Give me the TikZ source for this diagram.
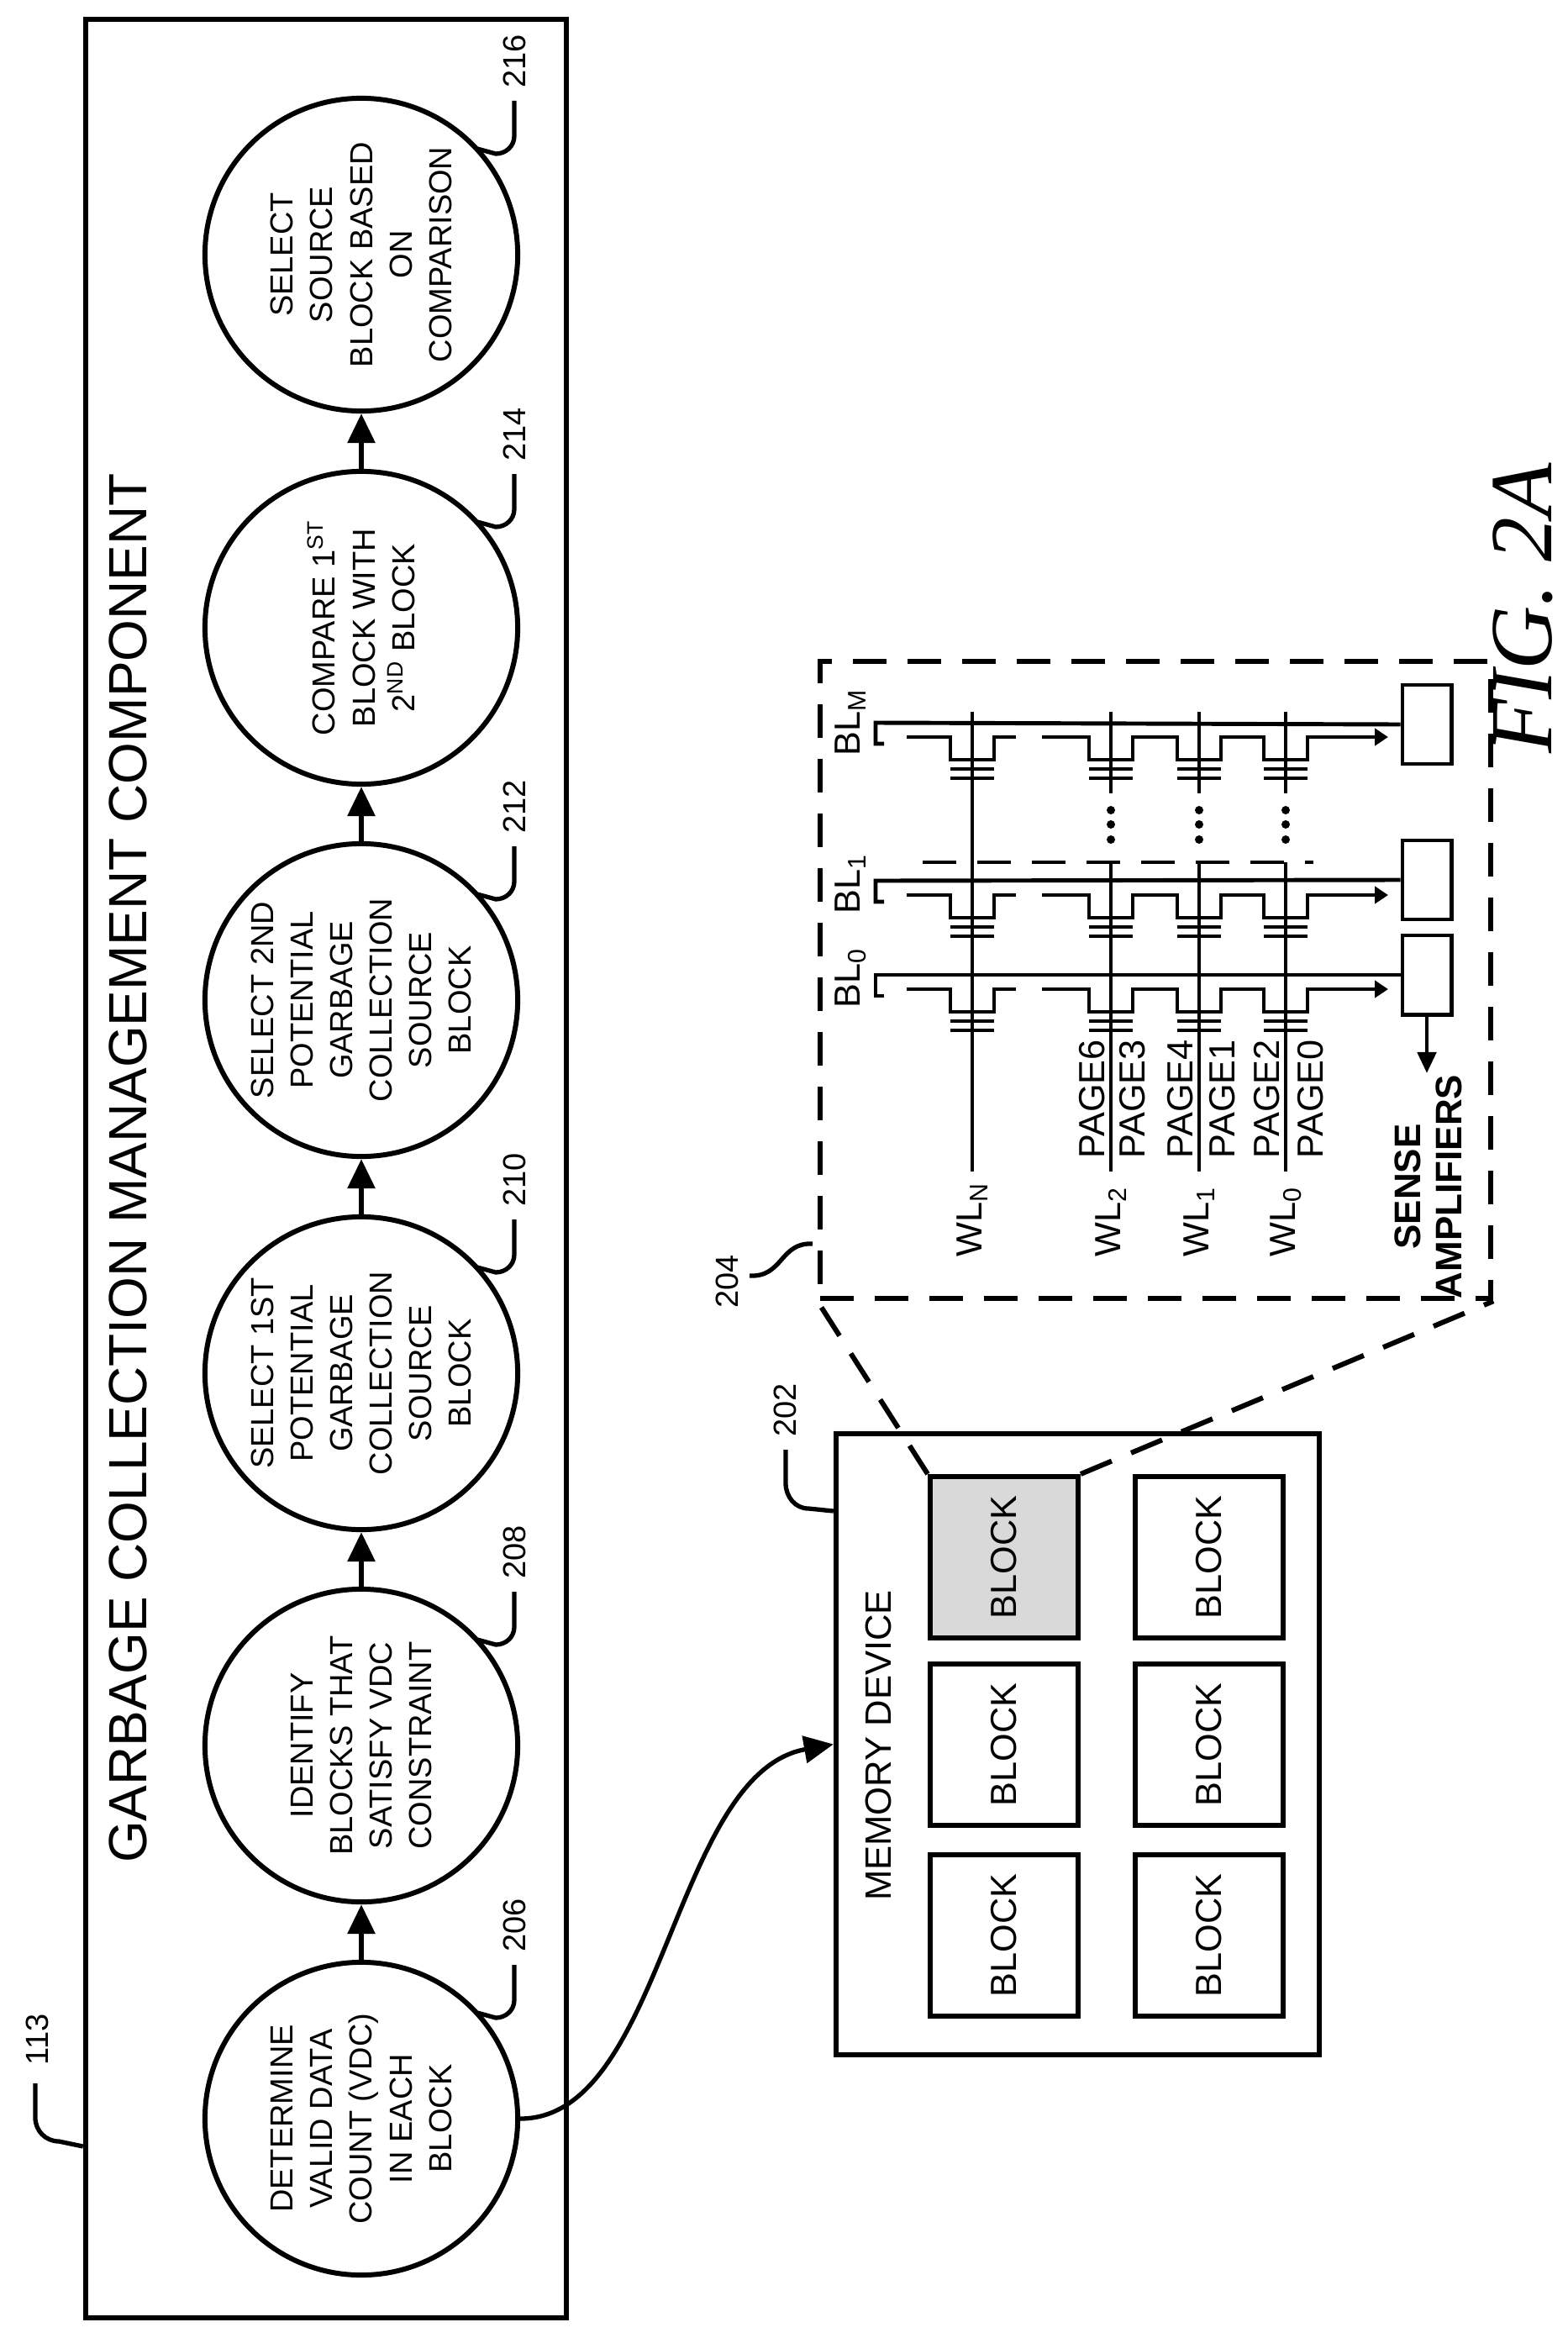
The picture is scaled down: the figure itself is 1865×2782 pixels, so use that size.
\documentclass[tikz,border=0pt]{standalone}
\usepackage{fontspec}
\setmainfont{Liberation Sans}
\newfontfamily\figfont{Liberation Serif}
\usetikzlibrary{arrows.meta, positioning, shapes}
\newcommand{\sub}[1]{\textsubscript{#1}}
\newcommand{\sups}[1]{\textsuperscript{#1}}
\tikzset{
  proc/.style={circle, draw, line width=1.7pt, minimum size=3.72cm, inner sep=0pt, rotate=90, align=center, font=\fontsize{10.8}{13.4}\selectfont},
  flow/.style={line width=1.7pt, -{Triangle[width=0.32cm, length=0.35cm]}},
  lead/.style={line width=1.5pt},
  num/.style={rotate=90, inner sep=0pt, font=\fontsize{10.8}{12}\selectfont},
  blk/.style={draw, line width=1.7pt, rotate=90, minimum width=1.92cm, minimum height=1.76cm, font=\fontsize{12.3}{14}\selectfont},
  wire/.style={line width=1.4pt},
  lbl/.style={rotate=90, anchor=west, inner sep=0pt, font=\fontsize{12.3}{14}\selectfont},
  zoomln/.style={line width=1.7pt, dash pattern=on 0.4cm off 0.25cm},
}
\begin{document}
\begin{tikzpicture}[x=0.01cm, y=-0.01cm]
  \useasboundingbox (0,0) rectangle (1865,2782);
  % management component
  \node[draw, line width=1.7pt, minimum width=5.72cm, minimum height=27.33cm] (gc) at (388,1390.5) {};
  \node[rotate=90, font=\fontsize{18.2}{20}\selectfont] (title) at (152,1390) {GARBAGE COLLECTION MANAGEMENT COMPONENT};
  \node[num] (n113) at (44,2427) {113};
  \draw[lead] (42,2479) -- (42,2520) to[out=-90, in=180] (70,2548) -- (gc.west |- 0,2554);

  \node[proc] (c206) at (430,2521) {DETERMINE\\VALID DATA\\COUNT (VDC)\\IN EACH\\BLOCK};
  \node[proc] (c208) at (430,2077) {IDENTIFY\\BLOCKS THAT\\SATISFY VDC\\CONSTRAINT};
  \node[proc] (c210) at (430,1634) {SELECT 1ST\\POTENTIAL\\GARBAGE\\COLLECTION\\SOURCE\\BLOCK};
  \node[proc] (c212) at (430,1190) {SELECT 2ND\\POTENTIAL\\GARBAGE\\COLLECTION\\SOURCE\\BLOCK};
  \node[proc] (c214) at (430,747) {COMPARE 1\sups{ST}\\BLOCK WITH\\2\sups{ND} BLOCK};
  \node[proc] (c216) at (430,303) {SELECT\\SOURCE\\BLOCK BASED\\ON\\COMPARISON};

  \draw[flow] (c206) -- (c208);
  \draw[flow] (c208) -- (c210);
  \draw[flow] (c210) -- (c212);
  \draw[flow] (c212) -- (c214);
  \draw[flow] (c214) -- (c216);

  \foreach \n/\y in {206/2521, 208/2077, 210/1634, 212/1190, 214/747, 216/303} {
    \draw[lead] (568,\y-126) -- (590,\y-120) to[out=0, in=-90] (612,\y-141) -- (612,\y-183);
    \node[num] (n\n) at (612,\y-230) {\n};
  }

  % memory device
  \node[draw, line width=1.7pt, minimum width=5.75cm, minimum height=7.39cm] (mem) at (1282.5,2075.5) {};
  \node[rotate=90, font=\fontsize{12.4}{14}\selectfont] (memt) at (1045,2077) {MEMORY DEVICE};
  \node[blk, fill=black!15] (b11) at (1195,1853) {BLOCK};
  \node[blk] (b12) at (1439,1853) {BLOCK};
  \node[blk] (b21) at (1195,2076) {BLOCK};
  \node[blk] (b22) at (1439,2076) {BLOCK};
  \node[blk] (b31) at (1195,2303) {BLOCK};
  \node[blk] (b32) at (1439,2303) {BLOCK};
  \node[num] (n202) at (934,1678) {202};
  \draw[lead] (935,1725) -- (935,1765) to[out=-90, in=180] (962,1795) -- (mem.west |- 0,1798);
  \draw[flow, line width=1.5pt] (c206.south) .. controls (790,2521) and (800,2110) .. (mem.west);

  % memory array
  \node[draw, zoomln, minimum width=7.98cm, minimum height=7.58cm] (arr) at (1375,1166) {};
  \draw[zoomln] (b11.north east) -- (arr.south west);
  \draw[zoomln] (b11.south east) -- (arr.south east);
  \node[num] (n204) at (865,1525) {204};
  \draw[lead] (892,1518) .. controls (932,1520) and (928,1478) .. (967,1480);

  \node[draw, line width=1.4pt, minimum width=0.58cm, minimum height=0.94cm] (saM) at (1698,862) {};
  \node[draw, line width=1.4pt, minimum width=0.58cm, minimum height=0.94cm] (sa1) at (1698,1047) {};
  \node[draw, line width=1.4pt, minimum width=0.58cm, minimum height=0.94cm] (sa0) at (1698,1160) {};
  \node[lbl] (blM) at (1012,900) {BL\sub{M}};
  \node[lbl] (bl1) at (1012,1088) {BL\sub{1}};
  \node[lbl] (bl0) at (1012,1200) {BL\sub{0}};
  \foreach \y/\s in {860/saM, 1048/sa1, 1160/sa0} {
    \draw[wire] (1052,\y+25) -- (1042,\y+25) -- (1042,\y) -- (\s.west);
    \draw[wire] (1079,\y+17) -- (1131,\y+17) -- (1131,\y+44) -- (1183,\y+44) -- (1183,\y+17) -- (1209,\y+17);
    \draw[wire, -{Triangle[width=0.2cm, length=0.16cm]}] (1240,\y+17) -- (1296,\y+17) -- (1296,\y+44) -- (1348,\y+44) -- (1348,\y+17)
      -- (1401,\y+17) -- (1401,\y+44) -- (1453,\y+44) -- (1453,\y+17) -- (1504,\y+17) -- (1504,\y+44) -- (1556,\y+44) -- (1556,\y+17) -- (1652,\y+17);
    \foreach \x in {1157, 1322, 1427, 1530} {
      \draw[wire] (\x-26,\y+55) -- (\x+26,\y+55);
      \draw[wire] (\x-26,\y+66) -- (\x+26,\y+66);
    }
  }
  \draw[wire] (1157,847) -- (1157,1394);
  \foreach \x in {1322, 1427, 1530} {
    \draw[wire] (\x,847) -- (\x,944);
    \draw[wire] (\x,1026) -- (\x,1394);
    \foreach \d in {964, 981, 999} \fill (\x,\d) circle (5);
  }
  \draw[wire, dash pattern=on 0.4cm off 0.25cm] (1098,1026) -- (1563,1026);
  \draw[wire, -{Triangle[width=0.22cm, length=0.25cm]}] (sa0.south) -- (1698,1277);

  \node[lbl] (wlN) at (1157,1496) {WL\sub{N}};
  \node[lbl] (wl2) at (1322,1496) {WL\sub{2}};
  \node[lbl] (wl1) at (1427,1496) {WL\sub{1}};
  \node[lbl] (wl0) at (1530,1496) {WL\sub{0}};
  \node[lbl] (p6) at (1300,1379) {PAGE6};
  \node[lbl] (p3) at (1348,1379) {PAGE3};
  \node[lbl] (p4) at (1405,1379) {PAGE4};
  \node[lbl] (p1) at (1455,1379) {PAGE1};
  \node[lbl] (p2) at (1508,1379) {PAGE2};
  \node[lbl] (p0) at (1560,1379) {PAGE0};
  \node[rotate=90, align=center, inner sep=0pt, font=\bfseries\fontsize{12.5}{14}\selectfont] (sense) at (1700,1412) {SENSE\\AMPLIFIERS};

  \node[rotate=90, inner sep=0pt, font=\figfont\itshape\fontsize{30}{32}\selectfont] (fig) at (1812,724) {FIG. 2A};
\end{tikzpicture}
\end{document}
